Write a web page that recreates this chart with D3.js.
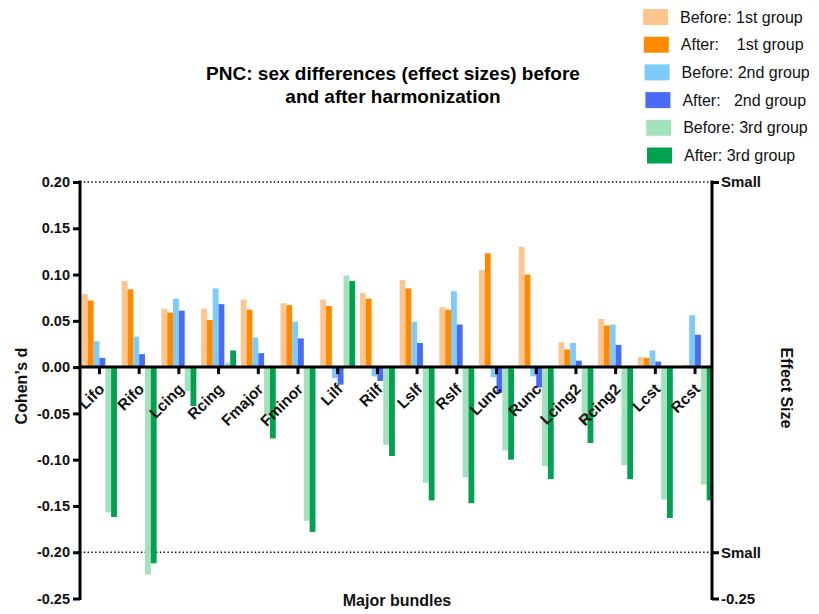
<!DOCTYPE html>
<html>
<head>
<meta charset="utf-8">
<script src="https://cdn.jsdelivr.net/npm/d3@7/dist/d3.min.js"></script>
<style>
  html, body { margin: 0; padding: 0; background: #fff; }
  svg { display: block; font-family: "Liberation Sans", Arial, sans-serif; }
  text { white-space: pre; }
</style>
</head>
<body>
<svg id="chart" width="819" height="614"></svg>
<script>
const categories = ["Lifo","Rifo","Lcing","Rcing","Fmajor","Fminor","Lilf","Rilf","Lslf","Rslf","Lunc","Runc","Lcing2","Rcing2","Lcst","Rcst"];
const before1 = [0.079, 0.093, 0.063, 0.063, 0.073, 0.069, 0.073, 0.080, 0.094, 0.065, 0.105, 0.130, 0.027, 0.052, 0.011, 0.001];
const after1  = [0.072, 0.084, 0.059, 0.051, 0.062, 0.067, 0.066, 0.074, 0.085, 0.062, 0.123, 0.100, 0.019, 0.045, 0.010, 0.002];
const before2 = [0.028, 0.033, 0.074, 0.085, 0.032, 0.049, -0.012, -0.010, 0.049, 0.082, -0.011, -0.010, 0.026, 0.046, 0.018, 0.056];
const after2  = [0.010, 0.014, 0.061, 0.068, 0.015, 0.031, -0.019, -0.015, 0.026, 0.046, -0.028, -0.022, 0.007, 0.024, 0.006, 0.035];
const before3 = [-0.157, -0.224, -0.026, 0.005, -0.053, -0.166, 0.099, -0.084, -0.125, -0.119, -0.090, -0.107, -0.062, -0.106, -0.143, -0.127];
const after3  = [-0.162, -0.212, -0.042, 0.018, -0.077, -0.178, 0.093, -0.096, -0.144, -0.147, -0.100, -0.121, -0.082, -0.121, -0.163, -0.144];
const seriesNames = ["Before: 1st group","After:    1st group","Before: 2nd group","After:   2nd group","Before: 3rd group","After: 3rd group"];
const seriesColors = ["#FFC58F","#FF8A00","#7CCBFA","#4A6CF3","#A3E2BD","#00A24F"];
const leftTicks = [0.20, 0.15, 0.10, 0.05, 0.00, -0.05, -0.10, -0.15, -0.20, -0.25];
const rightTicks = [0.20, -0.20, -0.25];
const rightTickLabels = ["Small", "Small", "-0.25"];
const smallThreshold = [0.20, -0.20];

const series = [before1, after1, before2, after2, before3, after3];

const svg = d3.select("#chart");
const plotL = 80, plotR = 712, plotT = 182, plotB = 598.5;

const y = d3.scaleLinear().domain([-0.25, 0.20]).range([plotB, plotT]);
const x0 = d3.scaleBand().domain(categories).range([plotL, 714.5]).paddingInner(0.12).paddingOuter(0.05);
const x1 = d3.scaleBand().domain(d3.range(series.length)).range([0, x0.bandwidth()]);

// Title
const title = svg.append("g").attr("font-weight", "bold").attr("font-size", 19).attr("text-anchor", "middle");
title.append("text").attr("x", 393).attr("y", 80).text("PNC: sex differences (effect sizes) before");
title.append("text").attr("x", 393).attr("y", 103).text("and after harmonization");

// Legend
const legend = svg.append("g");
seriesNames.forEach((name, i) => {
  const cy = 17 + i * 27.7;
  const dx = i * 0.8;
  legend.append("rect").attr("x", 643 + dx).attr("y", cy - 8).attr("width", 25).attr("height", 16).attr("fill", seriesColors[i]);
  legend.append("text").attr("x", 680 + dx).attr("y", cy + 5.5).attr("font-size", 16).attr("fill", "#111").text(name);
});

// Dotted threshold lines
svg.append("g").selectAll("line").data(smallThreshold).join("line")
  .attr("x1", plotL).attr("x2", plotR)
  .attr("y1", d => y(d)).attr("y2", d => y(d))
  .attr("stroke", "#000").attr("stroke-width", 1.4).attr("stroke-dasharray", "1.4,2.4");

// Bars
const groups = svg.append("g").selectAll("g").data(categories).join("g")
  .attr("transform", d => `translate(${x0(d)},0)`);
groups.selectAll("rect").data((d, ci) => series.map((s, si) => ({si, v: s[ci]}))).join("rect")
  .attr("x", d => x1(d.si))
  .attr("width", x1.bandwidth())
  .attr("y", d => Math.min(y(d.v), y(0)))
  .attr("height", d => Math.abs(y(d.v) - y(0)))
  .attr("fill", d => seriesColors[d.si]);

// Left axis
const yAxis = d3.axisLeft(y).tickValues(leftTicks).tickSize(7).tickPadding(3)
  .tickFormat(d => d3.format(".2f")(d).replace("\u2212", "-"));
const gy = svg.append("g").attr("transform", `translate(${plotL},0)`).call(yAxis);
gy.select(".domain").attr("stroke-width", 3).attr("d", `M0,${plotT - 1.5}V${plotB + 1.5}`);
gy.selectAll(".tick line").attr("stroke-width", 3);
gy.selectAll(".tick text").attr("font-size", 14.5).attr("font-weight", "bold").attr("font-family", "Liberation Sans, Arial, sans-serif").attr("fill", "#111");

// Right axis
const yAxisR = d3.axisRight(y).tickValues(rightTicks).tickFormat((d, i) => rightTickLabels[i]).tickSize(7).tickPadding(2);
const gyr = svg.append("g").attr("transform", `translate(${plotR},0)`).call(yAxisR);
gyr.select(".domain").attr("stroke-width", 3).attr("d", `M0,${plotT - 1.5}V${plotB + 1.5}`);
gyr.selectAll(".tick line").attr("stroke-width", 3);
gyr.selectAll(".tick text").attr("font-size", 15).attr("font-weight", "bold").attr("font-family", "Liberation Sans, Arial, sans-serif").attr("fill", "#111");

// X axis at zero
const xAxis = d3.axisBottom(x0).tickSize(7).tickSizeOuter(0).tickFormat("");
const gx = svg.append("g").attr("transform", `translate(0,${y(0)})`).call(xAxis);
gx.select(".domain").attr("stroke-width", 3).attr("d", `M${plotL},0H${plotR}`);
gx.selectAll(".tick line").attr("stroke-width", 3);

// X labels rotated
svg.append("g").selectAll("text").data(categories).join("text")
  .attr("transform", d => `translate(${x0(d) + x0.bandwidth() / 2 + 6},${y(0) + 23}) rotate(-45)`)
  .attr("text-anchor", "end")
  .attr("font-size", 15.5).attr("font-weight", "bold").attr("fill", "#111")
  .text(d => d);

// Axis titles
svg.append("text").attr("transform", `translate(27,386) rotate(-90)`).attr("text-anchor", "middle")
  .attr("font-size", 16).attr("font-weight", "bold").attr("fill", "#111").text("Cohen\u2019s d");
svg.append("text").attr("transform", `translate(781,388) rotate(90)`).attr("text-anchor", "middle")
  .attr("font-size", 16).attr("font-weight", "bold").attr("fill", "#111").text("Effect Size");
svg.append("text").attr("x", 397).attr("y", 606).attr("text-anchor", "middle")
  .attr("font-size", 16).attr("font-weight", "bold").attr("fill", "#111").text("Major bundles");
</script>
</body>
</html>
